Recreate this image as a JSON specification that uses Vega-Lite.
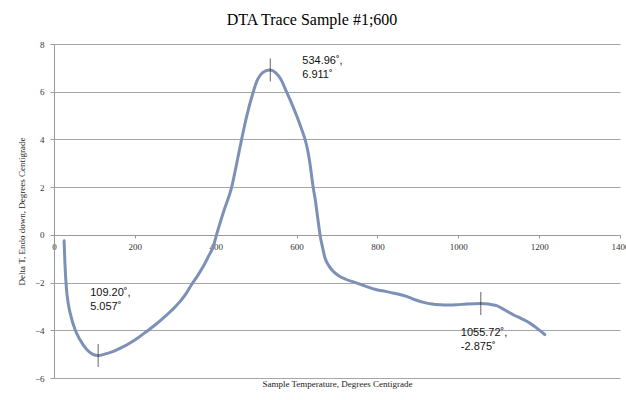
{
  "$schema": "https://vega.github.io/schema/vega-lite/v6.json",
  "autosize": {"type": "none"},
  "padding": {"left": 54, "top": 44, "right": 6, "bottom": 22},
  "width": 566,
  "height": 334,
  "title": {"text": "DTA Trace Sample #1;600", "font": "Liberation Serif", "fontSize": 16, "fontWeight": "normal", "color": "#000", "anchor": "middle", "dx": -25, "offset": 12},
  "config": {"view": {"stroke": null}},
  "datasets": {
    "trace": [
      {"t": 25, "d": -0.25}, {"t": 27, "d": -1.18}, {"t": 31, "d": -2.3}, {"t": 35, "d": -2.85},
      {"t": 40, "d": -3.28}, {"t": 52, "d": -3.97}, {"t": 64, "d": -4.39}, {"t": 81, "d": -4.81},
      {"t": 95, "d": -5.0}, {"t": 109.2, "d": -5.057}, {"t": 125, "d": -5.0}, {"t": 147, "d": -4.88},
      {"t": 168, "d": -4.72}, {"t": 188, "d": -4.53}, {"t": 209, "d": -4.3}, {"t": 229, "d": -4.05},
      {"t": 250, "d": -3.78}, {"t": 270, "d": -3.49}, {"t": 292, "d": -3.15}, {"t": 312, "d": -2.79},
      {"t": 327, "d": -2.45}, {"t": 340, "d": -2.09}, {"t": 355, "d": -1.72}, {"t": 369, "d": -1.33},
      {"t": 382, "d": -0.9}, {"t": 394, "d": -0.49}, {"t": 402, "d": 0.0}, {"t": 420, "d": 1.0},
      {"t": 439.5, "d": 2.0}, {"t": 452, "d": 3.0}, {"t": 464, "d": 4.0}, {"t": 477, "d": 5.0},
      {"t": 493, "d": 6.0}, {"t": 501, "d": 6.41}, {"t": 510, "d": 6.69}, {"t": 522, "d": 6.86},
      {"t": 534.96, "d": 6.911}, {"t": 548, "d": 6.8}, {"t": 560, "d": 6.55}, {"t": 575, "d": 6.0},
      {"t": 588, "d": 5.5}, {"t": 600, "d": 5.0}, {"t": 611, "d": 4.5}, {"t": 621, "d": 4.0},
      {"t": 628, "d": 3.5}, {"t": 633, "d": 3.0}, {"t": 637, "d": 2.5}, {"t": 641, "d": 2.0},
      {"t": 646, "d": 1.5}, {"t": 650, "d": 1.0}, {"t": 654, "d": 0.5}, {"t": 658, "d": 0.0},
      {"t": 664, "d": -0.5}, {"t": 670, "d": -0.95}, {"t": 680, "d": -1.3}, {"t": 692, "d": -1.55},
      {"t": 705, "d": -1.72}, {"t": 720, "d": -1.85}, {"t": 749, "d": -2.02}, {"t": 770, "d": -2.15},
      {"t": 798, "d": -2.3}, {"t": 820, "d": -2.37}, {"t": 839, "d": -2.44}, {"t": 855, "d": -2.5},
      {"t": 872, "d": -2.58}, {"t": 893, "d": -2.72}, {"t": 914, "d": -2.83}, {"t": 935, "d": -2.9},
      {"t": 955, "d": -2.93}, {"t": 975, "d": -2.94}, {"t": 996, "d": -2.93}, {"t": 1020, "d": -2.9},
      {"t": 1055.72, "d": -2.875}, {"t": 1075, "d": -2.9}, {"t": 1095, "d": -2.97}, {"t": 1115, "d": -3.15},
      {"t": 1136, "d": -3.35}, {"t": 1157, "d": -3.52}, {"t": 1177, "d": -3.7}, {"t": 1195, "d": -3.92},
      {"t": 1214, "d": -4.18}
    ],
    "peaks": [
      {"name": "min", "t": 109.2, "d": -5.057, "label": ["109.20˚,", "5.057˚"]},
      {"name": "max", "t": 534.96, "d": 6.911, "label": ["534.96˚,", "6.911˚"]},
      {"name": "end", "t": 1055.72, "d": -2.875, "label": ["1055.72˚,", "-2.875˚"]}
    ]
  },
  "layer": [
    {
      "data": {"name": "trace"},
      "mark": {"type": "line", "color": "#7d90b6", "strokeWidth": 3, "strokeCap": "round", "interpolate": "monotone"},
      "encoding": {
        "x": {"field": "t", "type": "quantitative", "scale": {"domain": [0, 1400], "nice": false},
          "axis": {"values": [0, 200, 400, 600, 800, 1000, 1200, 1400], "format": "d", "offset": -143, "grid": false,
            "domainColor": "#999", "tickColor": "#999", "tickSize": 3, "labelFont": "Liberation Serif", "labelFontSize": 9,
            "labelColor": "#333", "labelPadding": 4, "title": "Sample Temperature, Degrees Centigrade",
            "titleFont": "Liberation Serif", "titleFontSize": 9, "titleFontWeight": "normal", "titleColor": "#222",
            "titleY": 144, "titleBaseline": "top", "labelFlush": false}},
        "y": {"field": "d", "type": "quantitative", "scale": {"domain": [-6, 8], "nice": false},
          "axis": {"values": [-6, -4, -2, 0, 2, 4, 6, 8], "grid": true, "gridColor": "#a6a6a6", "gridWidth": 1,
            "domainColor": "#999", "tickColor": "#999", "tickSize": 4, "labelFont": "Liberation Serif", "labelFontSize": 9,
            "labelColor": "#333", "labelPadding": 6, "title": "Delta T, Endo down, Degrees Centigrade",
            "titleFont": "Liberation Serif", "titleFontSize": 9, "titleFontWeight": "normal", "titleColor": "#222",
            "titlePadding": 8}}
      }
    },
    {
      "data": {"name": "peaks"},
      "mark": {"type": "tick", "orient": "vertical", "size": 23, "thickness": 1, "color": "#222"},
      "encoding": {
        "x": {"field": "t", "type": "quantitative"},
        "y": {"field": "d", "type": "quantitative"}
      }
    },
    {
      "data": {"name": "peaks"},
      "transform": [{"filter": "datum.name === 'min'"}],
      "mark": {"type": "text", "align": "left", "baseline": "top", "dx": -8, "dy": -69, "font": "Liberation Sans", "fontSize": 11, "lineHeight": 14, "color": "#111"},
      "encoding": {
        "x": {"field": "t", "type": "quantitative"},
        "y": {"field": "d", "type": "quantitative"},
        "text": {"field": "label"}
      }
    },
    {
      "data": {"name": "peaks"},
      "transform": [{"filter": "datum.name === 'max'"}],
      "mark": {"type": "text", "align": "left", "baseline": "top", "dx": 32, "dy": -15, "font": "Liberation Sans", "fontSize": 11, "lineHeight": 14, "color": "#111"},
      "encoding": {
        "x": {"field": "t", "type": "quantitative"},
        "y": {"field": "d", "type": "quantitative"},
        "text": {"field": "label"}
      }
    },
    {
      "data": {"name": "peaks"},
      "transform": [{"filter": "datum.name === 'end'"}],
      "mark": {"type": "text", "align": "left", "baseline": "top", "dx": -20, "dy": 24, "font": "Liberation Sans", "fontSize": 11, "lineHeight": 14, "color": "#111"},
      "encoding": {
        "x": {"field": "t", "type": "quantitative"},
        "y": {"field": "d", "type": "quantitative"},
        "text": {"field": "label"}
      }
    }
  ]
}
